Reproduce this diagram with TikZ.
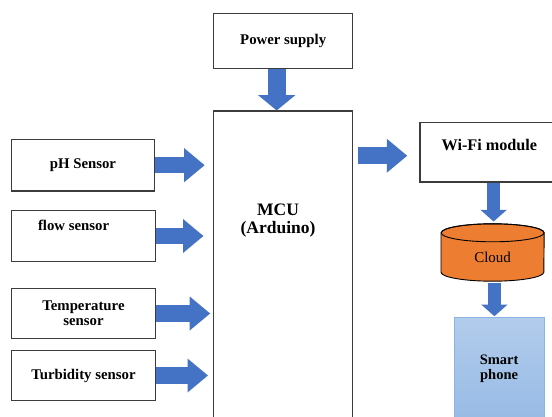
\documentclass[tikz,border=0pt]{standalone}
\usepackage{fontspec}
\setmainfont{Liberation Serif}
\usetikzlibrary{arrows.meta,calc}
\definecolor{arrowblue}{HTML}{4472C4}
\definecolor{cloudorange}{HTML}{ED7D31}
\definecolor{boxline}{HTML}{3C3C3C}
\definecolor{phonetop}{HTML}{B2CCEC}
\definecolor{phonebot}{HTML}{98BBE5}
\definecolor{phoneline}{HTML}{8DB3E2}
\begin{document}
\begin{tikzpicture}[x=1pt,y=1pt,
  box/.style={draw=boxline, line width=1.1pt, rectangle, inner sep=0pt, align=center,
    font=\fontsize{14.8}{14.7}\selectfont\bfseries},
  lbl/.style={inner sep=0pt, align=center},
  harrow/.style={draw=arrowblue, line width=16.5pt,
    -{Triangle[length=20.4pt,width=34pt,line width=0pt]}},
  varrowbig/.style={draw=arrowblue, line width=18.3pt,
    -{Triangle[length=15.3pt,width=37.3pt,line width=0pt]}},
  varrowsmall/.style={draw=arrowblue, line width=12.3pt,
    -{Triangle[length=11.7pt,width=26.5pt,line width=0pt]}}
]
\useasboundingbox (0,0) rectangle (552,-417);
\fill[white] (0,0) rectangle (552,-417);
\clip (0,0) rectangle (552,-417);

% boxes
\node[box, minimum width=139.1pt, minimum height=55.3pt] (power) at (283.2,-41.3) {Power supply};
\node[box, minimum width=139.1pt, minimum height=319pt] (mcu) at (283.2,-270.5) {};
\node[lbl, font=\fontsize{17.5}{18}\selectfont\bfseries] (mculabel) at (278,-221) {MCU\\(Arduino)};

\node[box, minimum width=143.3pt, minimum height=51.7pt] (ph) at (82.95,-165.2) {pH Sensor};
\node[box, minimum width=144.3pt, minimum height=50.6pt] (flow) at (83.45,-236) {};
\node[lbl, font=\fontsize{14.8}{14.7}\selectfont\bfseries] (flowlabel) at (73.6,-225) {flow sensor};
\node[box, minimum width=144.3pt, minimum height=50.4pt] (temp) at (83.45,-313.5) {Temperature\\sensor};
\node[box, minimum width=144.3pt, minimum height=50.4pt] (turb) at (83.45,-375.5) {Turbidity sensor};

\node[box, minimum width=138pt, minimum height=59.3pt] (wifi) at (489,-152.35) {};
\node[lbl, font=\fontsize{16.2}{16}\selectfont\bfseries] (wifilabel) at (489.4,-145.2) {Wi-Fi module};

% cloud cylinder
\node[inner sep=0pt, minimum width=102.8pt, minimum height=57pt] (cloud) at (492.6,-252.5) {};
\filldraw[fill=cloudorange, draw=black, line width=0.9pt]
  ([yshift=-9pt]cloud.north west) -- ([yshift=9pt]cloud.south west)
  arc[start angle=180, end angle=360, x radius=51.4pt, y radius=9pt]
  -- ([yshift=-9pt]cloud.north east)
  arc[start angle=0, end angle=180, x radius=51.4pt, y radius=9pt] -- cycle;
\draw[black, line width=0.9pt] ([yshift=-9pt]cloud.north) ellipse[x radius=51.4pt, y radius=9pt];
\node[lbl, font=\fontsize{15}{15}\selectfont] (cloudlabel) at (492.6,-257.7) {Cloud};

\node[rectangle, draw=phoneline, line width=1pt, top color=phonetop, bottom color=phonebot,
  minimum width=89.8pt, minimum height=102.7pt, inner sep=0pt, align=center,
  font=\fontsize{14.5}{14.6}\selectfont\bfseries] (phone) at (499.1,-368.65) {Smart\\phone};

% block arrows
\draw[varrowbig] ([xshift=-6.5pt]power.south) -- ([xshift=-6.5pt]mcu.north);
\draw[harrow] (ph.east) -- ($(mcu.west |- ph.east)+(-8.5,0)$);
\draw[harrow] (flow.east) -- ($(mcu.west |- flow.east)+(-9.7,0)$);
\draw[harrow] (temp.east) -- ($(mcu.west |- temp.east)+(-3,0)$);
\draw[harrow] (turb.east) -- ($(mcu.west |- turb.east)+(-5.2,0)$);
\draw[harrow] ($(mcu.east |- wifi.west)+(4.9,-3.4)$) -- ($(wifi.west)+(-12.3,-3.4)$);
\draw[varrowsmall] ($(wifi.south)+(4.6,0)$) -- ($(cloud.north)+(1,2.3)$);
\draw[varrowsmall] ($(cloud.south)+(1.8,-2)$) -- ($(phone.north)+(-4.7,0.6)$);
\end{tikzpicture}
\end{document}
